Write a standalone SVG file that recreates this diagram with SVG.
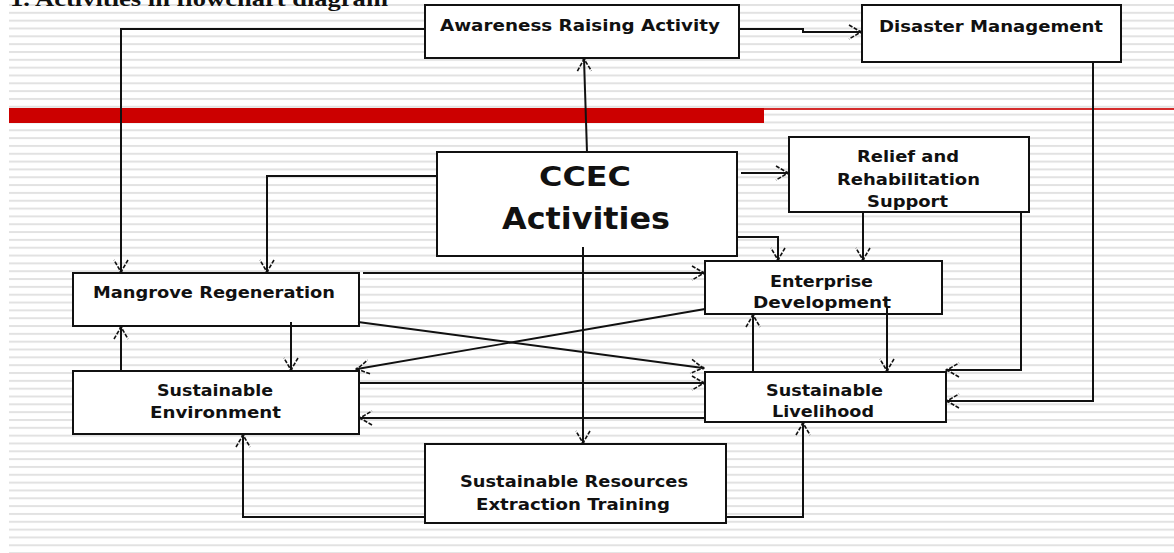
<svg xmlns="http://www.w3.org/2000/svg" width="1174" height="553" viewBox="0 0 1174 553">
<defs>
<pattern id="stripes" x="0" y="4" width="20" height="7.83" patternUnits="userSpaceOnUse">
<rect x="0" y="0" width="20" height="2" fill="#e2e2e2"/>
</pattern>
<marker id="arr" markerUnits="userSpaceOnUse" markerWidth="20" markerHeight="20" viewBox="-14 -10 16 20" refX="0" refY="0" orient="auto">
<path d="M-12,-7 L0,0 L-12,7" fill="none" stroke="#111" stroke-width="1.6" stroke-dasharray="4 1.5"/>
<circle cx="0" cy="0" r="1.6" fill="#111"/>
</marker>
<style>
.box{fill:#fff;stroke:#111;stroke-width:2}
.lbl{font-family:"DejaVu Sans","Verdana",sans-serif;font-weight:bold;font-size:16px;fill:#111;text-anchor:middle}
.big{font-family:"DejaVu Sans","Verdana",sans-serif;font-weight:bold;fill:#111;text-anchor:middle}
.con{fill:none;stroke:#111;stroke-width:2;marker-end:url(#arr)}
.diag{fill:none;stroke:#111;stroke-width:1.8;marker-end:url(#arr)}
</style>
</defs>
<rect x="0" y="0" width="1174" height="553" fill="#fff"/>
<rect x="9" y="0" width="1165" height="553" fill="url(#stripes)"/>
<rect x="9" y="108" width="755" height="15" fill="#cc0000"/>
<rect x="764" y="108" width="410" height="2" fill="#d42c2c"/>
<text x="10" y="6" font-family="Liberation Serif, serif" font-weight="bold" font-size="22" fill="#111" textLength="378" lengthAdjust="spacingAndGlyphs">1. Activities in flowchart diagram</text>

<g id="awareness">
<rect class="box" x="425" y="5" width="314" height="53"/>
<text class="lbl" x="580" y="31" textLength="280" lengthAdjust="spacingAndGlyphs">Awareness Raising Activity</text>
</g>
<g id="disaster">
<rect class="box" x="862" y="5" width="259" height="57"/>
<text class="lbl" x="991" y="32" textLength="224" lengthAdjust="spacingAndGlyphs">Disaster Management</text>
</g>
<g id="ccec">
<rect class="box" x="437" y="152" width="300" height="104"/>
<text class="big" x="585" y="186" font-size="27" textLength="92" lengthAdjust="spacingAndGlyphs">CCEC</text>
<text class="big" x="586" y="229" font-size="30" textLength="168" lengthAdjust="spacingAndGlyphs">Activities</text>
</g>
<g id="relief">
<rect class="box" x="789" y="137" width="240" height="75"/>
<text class="lbl" x="908" y="162" textLength="102" lengthAdjust="spacingAndGlyphs">Relief and</text>
<text class="lbl" x="908.5" y="185" textLength="143" lengthAdjust="spacingAndGlyphs">Rehabilitation</text>
<text class="lbl" x="907.5" y="207" textLength="81" lengthAdjust="spacingAndGlyphs">Support</text>
</g>
<g id="enterprise">
<rect class="box" x="705" y="261" width="237" height="53"/>
<text class="lbl" x="821.5" y="287" textLength="103" lengthAdjust="spacingAndGlyphs">Enterprise</text>
<text class="lbl" x="822" y="308" textLength="138" lengthAdjust="spacingAndGlyphs">Development</text>
</g>
<g id="livelihood">
<rect class="box" x="705" y="372" width="241" height="50"/>
<text class="lbl" x="824.5" y="396" textLength="117" lengthAdjust="spacingAndGlyphs">Sustainable</text>
<text class="lbl" x="823" y="417" textLength="102" lengthAdjust="spacingAndGlyphs">Livelihood</text>
</g>
<g id="mangrove">
<rect class="box" x="73" y="273" width="286" height="53"/>
<text class="lbl" x="214" y="298" textLength="242" lengthAdjust="spacingAndGlyphs">Mangrove Regeneration</text>
</g>
<g id="environment">
<rect class="box" x="73" y="371" width="286" height="63"/>
<text class="lbl" x="215" y="396" textLength="116" lengthAdjust="spacingAndGlyphs">Sustainable</text>
<text class="lbl" x="215.5" y="418" textLength="131" lengthAdjust="spacingAndGlyphs">Environment</text>
</g>
<g id="training">
<rect class="box" x="425" y="444" width="301" height="79"/>
<text class="lbl" x="574" y="487" textLength="228" lengthAdjust="spacingAndGlyphs">Sustainable Resources</text>
<text class="lbl" x="573" y="510" textLength="194" lengthAdjust="spacingAndGlyphs">Extraction Training</text>
</g>

<g id="connectors">
<path class="con" d="M425,29 H121 V272"/>
<path class="con" d="M740,29 H803 V32 H861"/>
<path class="con" d="M587,152 L584,59"/>
<path class="con" d="M437,176 H267 V272"/>
<path class="con" d="M741,173 H788"/>
<path class="con" d="M737,237 H778 V260"/>
<path class="con" d="M863,212 V260"/>
<path class="con" d="M1021,212 V370 H947"/>
<path class="con" d="M1093,62 V401 H947"/>
<path class="con" d="M887,307 V371"/>
<path class="con" d="M753,372 V315"/>
<path class="con" d="M583,247 V443"/>
<path class="con" d="M363,273 H704"/>
<path class="diag" d="M358,322 L703,368"/>
<path class="diag" d="M705,309 L357,369"/>
<path class="con" d="M359,383 H704"/>
<path class="con" d="M705,418 H360"/>
<path class="con" d="M291,322 V370"/>
<path class="con" d="M121,371 V327"/>
<path class="con" d="M425,517 H243 V435"/>
<path class="con" d="M726,517 H803 V423"/>
</g>
</svg>
